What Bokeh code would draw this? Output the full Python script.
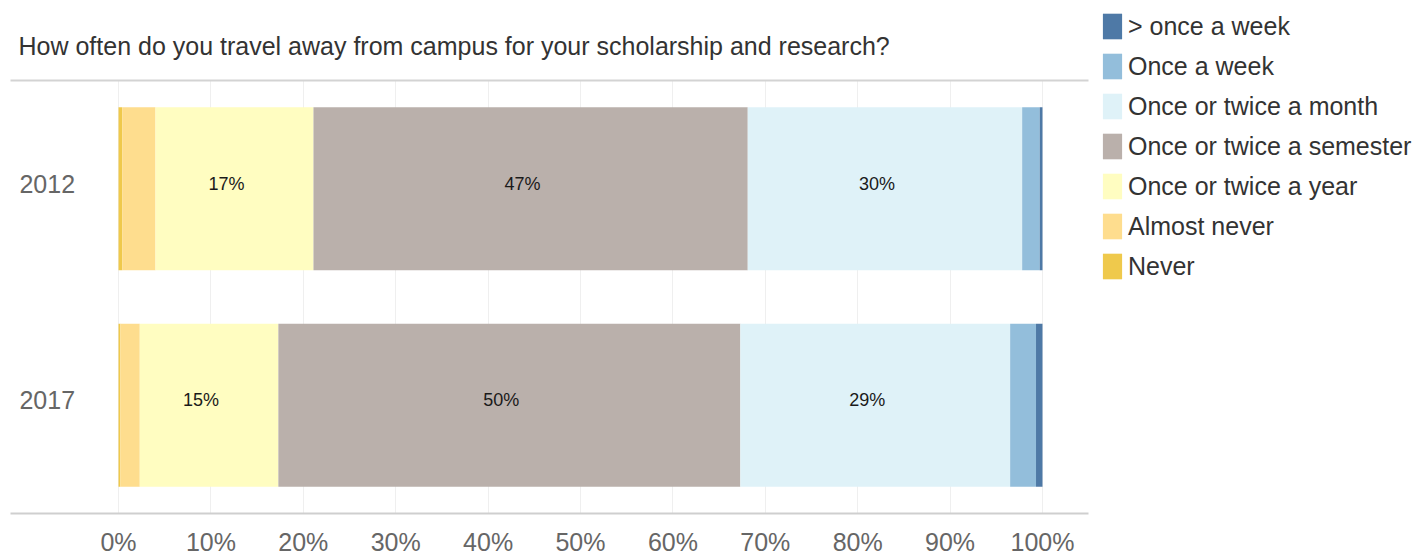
from bokeh.plotting import figure
from bokeh.models import (FactorRange, Range1d, ColumnDataSource, LinearAxis,
                          FixedTicker, PrintfTickFormatter, Legend, LegendItem)
from bokeh.core.properties import value
from bokeh.embed import file_html
from bokeh.resources import INLINE

# ---------------- data ----------------
title_text = "How often do you travel away from campus for your scholarship and research?"
years = ["2012", "2017"]
series = ["Never", "Almost never", "Once or twice a year", "Once or twice a semester",
          "Once or twice a month", "Once a week", "> once a week"]
v2012 = [0.4, 3.6, 17.1, 47.0, 29.7, 1.9, 0.3]
v2017 = [0.2, 2.1, 15.0, 50.0, 29.2, 2.8, 0.7]
labeled_series = ["Once or twice a year", "Once or twice a semester", "Once or twice a month"]
colors = ["#efc94c", "#fedd8e", "#fffdc1", "#bab0ab", "#dff2f8", "#93bedb", "#4e79a6"]
tick_values = [0, 10, 20, 30, 40, 50, 60, 70, 80, 90, 100]

FONT = "'Liberation Sans', Arial, sans-serif"

keys = ["s%d" % i for i in range(len(series))]
data = {"year": years}
for i, k in enumerate(keys):
    data[k] = [v2012[i], v2017[i]]
source = ColumnDataSource(data)

# segment labels
lx, ly, lt = [], [], []
for yr, vals in zip(years, [v2012, v2017]):
    cum = 0.0
    for name, v in zip(series, vals):
        if name in labeled_series:
            lx.append(cum + v / 2.0)
            ly.append(yr)
            lt.append("%d%%" % round(v))
        cum += v
label_src = ColumnDataSource(dict(x=lx, y=ly, text=lt))

# ---------------- main figure ----------------
p = figure(frame_width=1078, frame_height=433,
           x_range=Range1d(-11.69, 104.98),
           y_range=FactorRange(factors=["2017", "2012"], range_padding=0),
           toolbar_location=None, output_backend="svg",
           y_axis_location=None, x_axis_location="below",
           min_border_left=10, min_border_right=335, min_border_top=80, min_border_bottom=0,
           outline_line_color=None)

p.title.text = title_text
p.title.text_font = FONT
p.title.text_font_size = "25px"
p.title.text_font_style = "normal"
p.title.text_color = "#333333"
p.title.align = "left"
p.title.offset = 8
p.title.standoff = 42

renderers = p.hbar_stack(keys, y="year", height=0.753, fill_color=colors,
                         line_color=None, source=source)

p.text(x="x", y="y", text="text", source=label_src, text_align="center",
       text_baseline="middle", text_font=value(FONT), text_font_size="18px",
       text_color="#1a1a1a", x_offset=-8, y_offset=-5)

# year labels
p.text(x=[-4.7, -4.7], y=years, text=years, text_align="right", text_baseline="middle",
       text_font=value(FONT), text_font_size="25px", text_color="#666666", y_offset=-5)

xa = p.xaxis[0]
xa.ticker = FixedTicker(ticks=tick_values)
xa.formatter = PrintfTickFormatter(format="%d%%")
xa.axis_line_color = "#cfcfcf"
xa.axis_line_width = 2
xa.major_tick_line_color = None
xa.minor_tick_line_color = None
xa.major_tick_out = 0
xa.major_tick_in = 0
xa.major_label_standoff = 14
xa.major_label_text_font = FONT
xa.major_label_text_font_size = "25px"
xa.major_label_text_color = "#666666"

top_axis = LinearAxis(axis_line_color="#d3d3d3", axis_line_width=2,
                      major_tick_line_color=None, minor_tick_line_color=None,
                      major_label_text_font_size="0px", major_label_standoff=0,
                      major_tick_out=0, major_tick_in=0,
                      ticker=FixedTicker(ticks=[]))
p.add_layout(top_axis, "above")

p.xgrid.ticker = FixedTicker(ticks=tick_values)
p.xgrid.grid_line_color = "#efefef"
p.xgrid.grid_line_width = 1
p.ygrid.visible = False

# ---------------- legend (top to bottom: reversed stack order) ----------------
items = [LegendItem(label=name, renderers=[r])
         for name, r in reversed(list(zip(series, renderers)))]
legend = Legend(items=items, location=(12, 231), margin=0, padding=2,
                border_line_color=None, background_fill_alpha=0,
                label_text_font=FONT, label_text_font_size="25px",
                label_text_color="#333333", glyph_width=24, glyph_height=32,
                label_standoff=4, label_height=26, spacing=8)
p.add_layout(legend, "right")

open("out.html", "w").write(file_html(p, INLINE))
